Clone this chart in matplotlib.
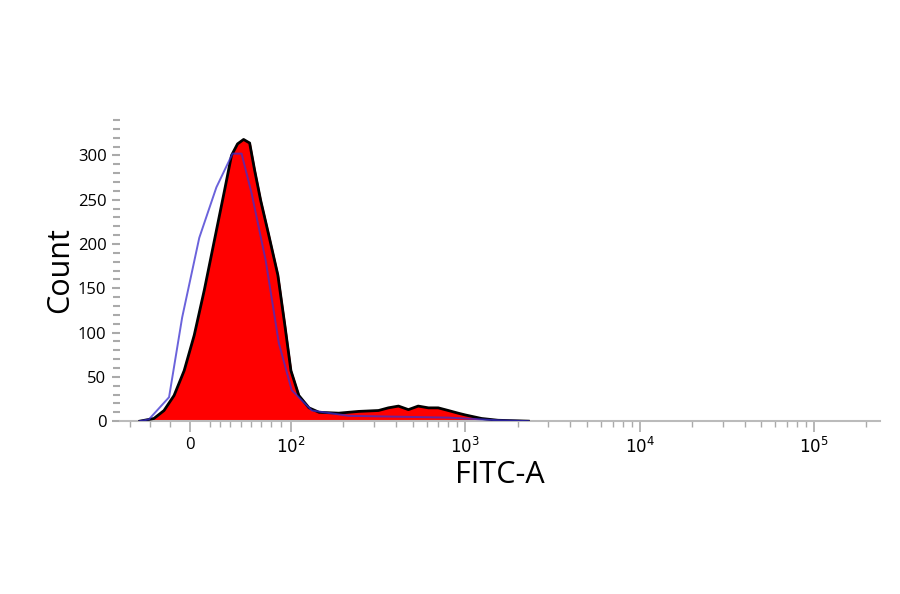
import numpy as np
import matplotlib.pyplot as plt
from matplotlib.ticker import FixedLocator, MultipleLocator

# stained sample (red filled), FITC-A values and counts
red_x = [-50, -36, -26, -16, -6, 4, 14, 24, 34, 41, 47, 53, 59, 64, 70, 78, 87, 94, 100,
         111, 127, 145, 188, 245, 318, 362, 414, 472, 537, 615, 700, 800, 910, 1000, 1240, 1540, 2300]
red_y = [0, 3, 12, 29, 57, 97, 148, 204, 260, 300, 313, 318, 314, 283, 249, 210, 165, 108, 57,
         29, 15, 10, 9, 11, 12, 15, 17, 13, 17, 15, 15, 12, 9, 7, 3, 1, 0]

# control sample (blue line)
blue_x = [-50, -41, -21, -8, 9, 26, 42, 51, 61, 75, 88, 101, 132, 214, 414, 800, 1540, 2300]
blue_y = [0, 2, 27, 117, 207, 264, 302, 302, 257, 181, 88, 35, 12, 6, 5, 4, 1, 0]

yticks = [0, 50, 100, 150, 200, 250, 300]
major_x = [0, 1e2, 1e3, 1e4, 1e5]
major_labels = ['0', '$10^2$', '$10^3$', '$10^4$', '$10^5$']

plt.rcParams['font.family'] = ['Open Sans', 'DejaVu Sans']
fig = plt.figure(figsize=(9, 5.94), dpi=100)
ax = fig.add_axes([0.133, 0.291, 0.845, 0.51])
ax.set_xscale('symlog', linthresh=100, linscale=0.52)

ax.fill_between(red_x, red_y, 0, color='#ff0000', zorder=2)
ax.plot(red_x, red_y, color='black', lw=2, solid_joinstyle='round', zorder=3)
ax.plot(blue_x, blue_y, color='#3a2fd0', lw=1.4, alpha=0.75, solid_joinstyle='round', zorder=4)

ax.set_xlim(-70, 2.4e5)
ax.set_ylim(0, 342)

minor = list(range(-60, 0, 20)) + list(range(20, 100, 10))
for d in [100, 1000, 10000, 100000]:
    minor += [d * k for k in range(2, 10) if d * k < 2.4e5]
ax.xaxis.set_major_locator(FixedLocator(major_x))
ax.xaxis.set_minor_locator(FixedLocator(minor))
ax.set_xticklabels(major_labels)
ax.set_yticks(yticks)
ax.yaxis.set_minor_locator(MultipleLocator(10))

for s in ['top', 'right', 'left']:
    ax.spines[s].set_visible(False)
ax.spines['bottom'].set_color('#bbbbbb')
ax.spines['bottom'].set_linewidth(1.5)
ax.tick_params(axis='both', which='both', colors='#aaaaaa', labelcolor='black', labelsize=12)
ax.tick_params(axis='x', which='major', length=8, width=1.2)
ax.tick_params(axis='x', which='minor', length=4, width=1)
ax.tick_params(axis='y', which='major', length=6, width=1.5)
ax.tick_params(axis='y', which='minor', length=5, width=1.5)

ax.set_xlabel('FITC-A', fontsize=22, labelpad=2)
ax.set_ylabel('Count', fontsize=22, labelpad=2)

fig.savefig('out.png', dpi=100)
